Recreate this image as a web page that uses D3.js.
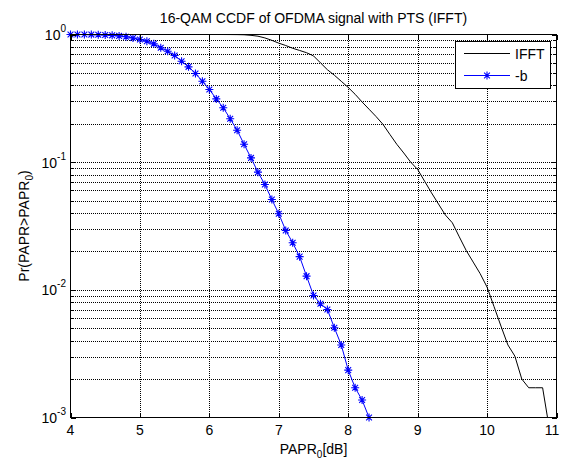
<!DOCTYPE html>
<html><head><meta charset="utf-8">
<script src="https://cdn.jsdelivr.net/npm/d3@7"></script>
<style>html,body{margin:0;padding:0;background:#fff;}svg{display:block;}text{font-family:"Liberation Sans",Arial,Helvetica,sans-serif;fill:#000;}</style>
</head><body>
<script>
const titleText = "16-QAM CCDF of OFDMA signal with PTS (IFFT)";
const xTicks = [4,5,6,7,8,9,10,11];
const yTickExps = [0,-1,-2,-3];
const legendLabels = ["IFFT","-b"];

const ifftX = [4.0,4.1,4.2,4.3,4.4,4.5,4.6,4.7,4.8,4.9,5.0,5.1,5.2,5.3,5.4,5.5,5.6,5.7,5.8,5.9,
  6.0,6.1,6.2,6.3,6.4,6.5,6.6,6.7,6.8,6.9,7.0,7.1,7.2,7.3,7.4,7.5,7.6,7.7,7.8,7.9,
  8.0,8.1,8.2,8.3,8.4,8.5,8.6,8.7,8.8,8.9,9.0,9.1,9.2,9.3,9.4,9.5,9.6,9.7,9.8,9.9,
  10.0,10.1,10.2,10.3,10.4,10.5,10.6,10.7,10.8,10.9];
const ifftY = [1,1,1,1,1,1,1,1,1,1,1,1,1,1,1,1,1,1,1,1,
  1,1,0.9995,0.999,0.998,0.995,0.985,0.97,0.94,0.90,0.855,0.82,0.78,0.75,0.72,0.68,0.60,0.53,0.48,0.43,
  0.385,0.34,0.296,0.26,0.228,0.198,0.165,0.138,0.118,0.10,0.0877,0.071,0.0575,0.047,0.0385,0.0335,0.026,0.0203,0.0165,0.0134,
  0.0105,0.0074,0.0052,0.0037,0.00303,0.0020,0.00171,0.00171,0.00171,0.0008];

const ptsX = [4.0,4.1,4.2,4.3,4.4,4.5,4.6,4.7,4.8,4.9,5.0,5.1,5.2,5.3,5.4,5.5,5.6,5.7,5.8,5.9,
  6.0,6.1,6.2,6.3,6.4,6.5,6.6,6.7,6.8,6.9,7.0,7.1,7.2,7.3,7.4,7.5,7.6,7.7,7.8,7.9,
  8.0,8.1,8.2,8.3];
const ptsY = [1,1,0.999,0.998,0.996,0.992,0.985,0.975,0.96,0.94,0.914,0.885,0.845,0.787,0.74,0.685,0.618,0.558,0.495,0.43,
  0.371,0.313,0.267,0.219,0.178,0.138,0.108,0.0835,0.0668,0.051,0.0394,0.0292,0.0234,0.0182,0.0128,0.00904,0.00778,0.00702,0.00505,0.0037,
  0.00235,0.00171,0.00137,0.001];

const W = 561, H = 461;
const L = 70.5, R = 556.5, T = 34.5, B = 417.5;
const svg = d3.select("body").append("svg").attr("width", W).attr("height", H);
svg.append("rect").attr("width", W).attr("height", H).attr("fill", "#fff");

const x = d3.scaleLinear().domain([4, 11]).range([L, R]);
const y = d3.scaleLog().domain([1e-3, 1]).range([B, T]);

const yGrid = [];
for (let e = -3; e < 0; e++) for (let m = 1; m <= 9; m++) yGrid.push(m * Math.pow(10, e));
yGrid.push(1);

const grid = svg.append("g").attr("stroke", "#000").attr("stroke-width", 1).attr("stroke-dasharray", "1,1").attr("shape-rendering","crispEdges");
grid.selectAll(".gx").data(xTicks.slice(1, -1)).join("line")
  .attr("x1", d => Math.round(x(d)) + 0.5).attr("x2", d => Math.round(x(d)) + 0.5).attr("y1", T).attr("y2", B);
grid.selectAll(".gy").data(yGrid.filter(v => v > 1e-3 && v < 1)).join("line")
  .attr("y1", d => Math.round(y(d)) + 0.5).attr("y2", d => Math.round(y(d)) + 0.5).attr("x1", L).attr("x2", R);

svg.append("clipPath").attr("id", "clip").append("rect").attr("x", L).attr("y", T).attr("width", R - L).attr("height", B - T);

const line = d3.line().x(d => x(d[0])).y(d => y(d[1]));
svg.append("path").datum(ifftX.map((v, i) => [v, ifftY[i]]))
  .attr("d", line).attr("fill", "none").attr("stroke", "#000").attr("stroke-width", 1).attr("clip-path", "url(#clip)");

const ptsData = ptsX.map((v, i) => [v, ptsY[i]]);
svg.append("path").datum(ptsData)
  .attr("d", line).attr("fill", "none").attr("stroke", "#0000ff").attr("stroke-width", 1);

const r = 4, rd = 2.9;
const starPath = `M${-r},0L${r},0M0,${-r}L0,${r}M${-rd},${-rd}L${rd},${rd}M${-rd},${rd}L${rd},${-rd}`;
svg.append("g").selectAll("path").data(ptsData).join("path")
  .attr("transform", d => `translate(${x(d[0])},${y(d[1])})`)
  .attr("d", starPath).attr("fill", "none").attr("stroke", "#0000ff").attr("stroke-width", 1.1);

const ax = svg.append("g").attr("stroke", "#000").attr("stroke-width", 1).attr("shape-rendering","crispEdges");
ax.append("rect").attr("x", L).attr("y", T).attr("width", R - L).attr("height", B - T).attr("fill", "none");
const majLen = 5, minLen = 3;
xTicks.forEach(v => {
  const px = Math.round(x(v)) + 0.5;
  ax.append("line").attr("x1", px).attr("x2", px).attr("y1", B).attr("y2", B - majLen);
  ax.append("line").attr("x1", px).attr("x2", px).attr("y1", T).attr("y2", T + majLen);
});
yGrid.forEach(v => {
  const py = Math.round(y(v)) + 0.5;
  const isMaj = Math.abs(Math.log10(v) - Math.round(Math.log10(v))) < 1e-9;
  const len = isMaj ? majLen : minLen;
  ax.append("line").attr("x1", L).attr("x2", L + len).attr("y1", py).attr("y2", py);
  ax.append("line").attr("x1", R).attr("x2", R - len).attr("y1", py).attr("y2", py);
});

svg.append("g").selectAll("text").data(xTicks).join("text")
  .attr("x", d => Math.min(x(d), 552)).attr("y", 435).attr("text-anchor", "middle")
  .attr("font-size", 14).text(d => d);

const yl = svg.append("g").selectAll("text").data(yTickExps).join("text")
  .attr("x", 66).attr("y", d => y(Math.pow(10, d)) + 5.5).attr("text-anchor", "end").attr("font-size", 14);
yl.append("tspan").text("10");
yl.append("tspan").attr("font-size", 10).attr("dy", -8).text(d => d);

svg.append("text").attr("x", (L + R) / 2).attr("y", 23).attr("text-anchor", "middle").attr("font-size", 14).text(titleText);

const xl = svg.append("text").attr("x", (L + R) / 2).attr("y", 454).attr("text-anchor", "middle").attr("font-size", 14);
xl.append("tspan").text("PAPR");
xl.append("tspan").attr("font-size", 10).attr("dy", 4).text("0");
xl.append("tspan").attr("dy", -4).text("[dB]");

const ylab = svg.append("text").attr("transform", `translate(29,${(T + B) / 2}) rotate(-90)`).attr("text-anchor", "middle").attr("font-size", 14);
ylab.append("tspan").text("Pr(PAPR>PAPR");
ylab.append("tspan").attr("font-size", 10).attr("dy", 4).text("0");
ylab.append("tspan").attr("dy", -4).text(")");

const lg = svg.append("g");
lg.append("rect").attr("x", 455.5).attr("y", 41.5).attr("width", 95).attr("height", 47)
  .attr("fill", "#fff").attr("stroke", "#000").attr("stroke-width", 1).attr("shape-rendering","crispEdges");
const legY = [53.5, 75.5];
const legColors = ["#000", "#0000ff"];
legendLabels.forEach((lab, i) => {
  lg.append("line").attr("x1", 464).attr("x2", 510).attr("y1", legY[i]).attr("y2", legY[i])
    .attr("stroke", legColors[i]).attr("stroke-width", 1);
  lg.append("text").attr("x", 515).attr("y", legY[i] + 5).attr("font-size", 14).text(lab);
});
lg.append("path").attr("transform", `translate(487,${legY[1]})`).attr("d", starPath)
  .attr("fill", "none").attr("stroke", "#0000ff").attr("stroke-width", 1.1);
</script>
</body></html>
